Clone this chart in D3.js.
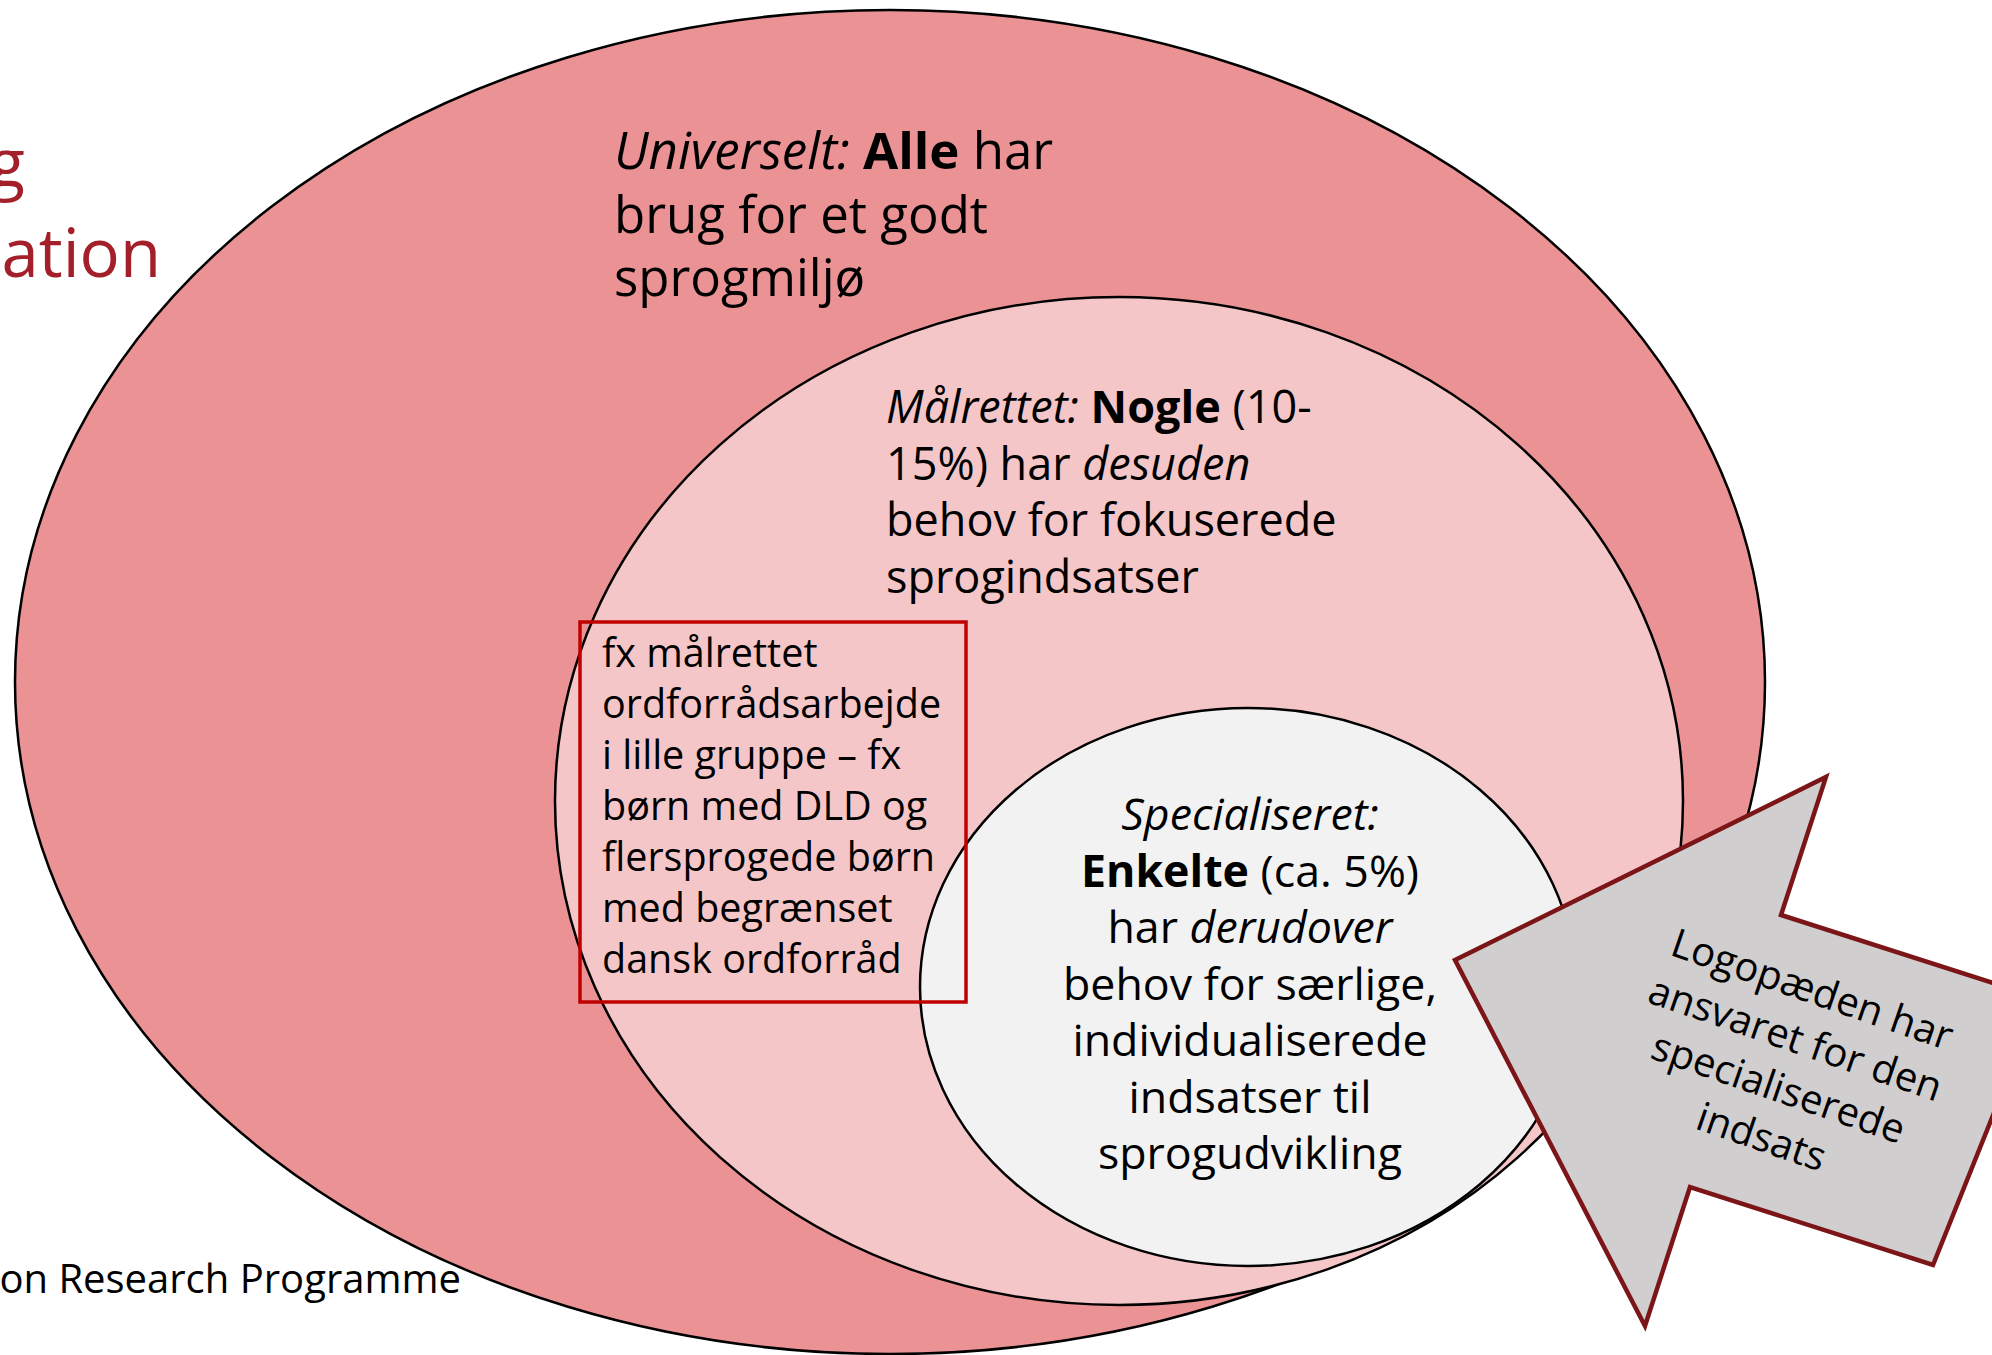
<!DOCTYPE html>
<html>
<head>
<meta charset="utf-8">
<script src="https://cdn.jsdelivr.net/npm/d3@7/dist/d3.min.js"></script>
<style>
  html, body { margin: 0; padding: 0; background: #fff; overflow: hidden; }
  svg text { font-family: "Segoe UI", "Open Sans", sans-serif; white-space: pre; fill: #000; }
</style>
</head>
<body>
<div id="diagram"></div>
<script>
// tiers, outer to inner (*italic*, **bold**)
const tiers = ["Universelt", "Målrettet", "Specialiseret"];
const universeltLines = ["*Universelt:* **Alle** har", "brug for et godt", "sprogmiljø"];
const maalrettetLines = ["*Målrettet:* **Nogle** (10-", "15%) har *desuden*", "behov for fokuserede", "sprogindsatser"];
const specialLines = ["*Specialiseret:*", "**Enkelte** (ca. 5%)", "har *derudover*", "behov for særlige,", "individualiserede", "indsatser til", "sprogudvikling"];
const exampleLines = ["fx målrettet", "ordforrådsarbejde", "i lille gruppe – fx", "børn med DLD og", "flersprogede børn", "med begrænset", "dansk ordforråd"];
const arrowLines = ["Logopæden har", "ansvaret for den", "specialiserede", "indsats"];
const titleLines = ["g", "ation"];
const footerText = "on Research Programme";

const W = 1992, H = 1355;

// layout (px)
const ellipses = [
  { cx: 890, cy: 682, rx: 875, ry: 672, fill: "#eb9295" },
  { cx: 1119, cy: 801, rx: 564, ry: 504, fill: "#f5c6c8" },
  { cx: 1248, cy: 987, rx: 328, ry: 279, fill: "#f2f2f2" }
];
const box = { x: 580, y: 622, w: 386, h: 380 };
const arrowPts = [[1455, 960], [1826, 777], [1781, 915], [2040, 998], [1933, 1265], [1690, 1187], [1645, 1326]];
const titleEnds = [25, 161];

const svg = d3.select("#diagram").append("svg")
  .attr("width", W).attr("height", H)
  .attr("viewBox", `0 0 ${W} ${H}`);

function segments(line) {
  return line.split(/(\*\*[^*]+\*\*|\*[^*]+\*)/).filter(s => s.length).map(s => {
    if (s.startsWith("**")) return { t: s.slice(2, -2), b: true };
    if (s.startsWith("*")) return { t: s.slice(1, -1), i: true };
    return { t: s };
  });
}

function drawLines(g, lines, opt) {
  lines.forEach((line, k) => {
    const t = g.append("text")
      .attr("x", Array.isArray(opt.x) ? opt.x[k] : opt.x)
      .attr("y", opt.y + k * opt.lh)
      .attr("text-anchor", opt.anchor || "start")
      .attr("font-size", opt.size)
      .style("fill", opt.color || "#000");
    segments(line).forEach(s => {
      t.append("tspan")
        .attr("font-style", s.i ? "italic" : null)
        .attr("font-weight", s.b ? "bold" : null)
        .text(s.t);
    });
  });
}

// title fragment (cut off at left edge)
drawLines(svg, titleLines, { x: titleEnds, y: 187, lh: 90, size: 67, anchor: "end", color: "#a3202a" });

// nested ellipses
svg.selectAll("ellipse.tier")
  .data(tiers)
  .join("ellipse")
  .attr("class", "tier")
  .attr("cx", (d, i) => ellipses[i].cx)
  .attr("cy", (d, i) => ellipses[i].cy)
  .attr("rx", (d, i) => ellipses[i].rx)
  .attr("ry", (d, i) => ellipses[i].ry)
  .attr("fill", (d, i) => ellipses[i].fill)
  .attr("stroke", "#000")
  .attr("stroke-width", 2.5);

// footer fragment
drawLines(svg, [footerText], { x: 461, y: 1293, lh: 0, size: 40, anchor: "end" });

drawLines(svg, universeltLines, { x: 614, y: 169, lh: 63.5, size: 51 });
drawLines(svg, maalrettetLines, { x: 886, y: 423, lh: 56.5, size: 45 });
drawLines(svg, specialLines, { x: 1250, y: 830, lh: 56.5, size: 44.7, anchor: "middle" });

// example box
svg.append("rect")
  .attr("x", box.x).attr("y", box.y)
  .attr("width", box.w).attr("height", box.h)
  .attr("fill", "none")
  .attr("stroke", "#c00000")
  .attr("stroke-width", 3.5);
drawLines(svg, exampleLines, { x: 602, y: 667, lh: 51, size: 39.5 });

// arrow callout
svg.append("path")
  .attr("d", d3.line()(arrowPts) + "Z")
  .attr("fill", "#d0cece")
  .attr("stroke", "#7b1518")
  .attr("stroke-width", 4.5)
  .attr("stroke-linejoin", "miter");

const ag = svg.append("g").attr("transform", "translate(1787,1063) rotate(19)");
drawLines(ag, arrowLines, { x: 0, y: -1.5 * 52 + 14, lh: 52, size: 40, anchor: "middle" });
</script>
</body>
</html>
